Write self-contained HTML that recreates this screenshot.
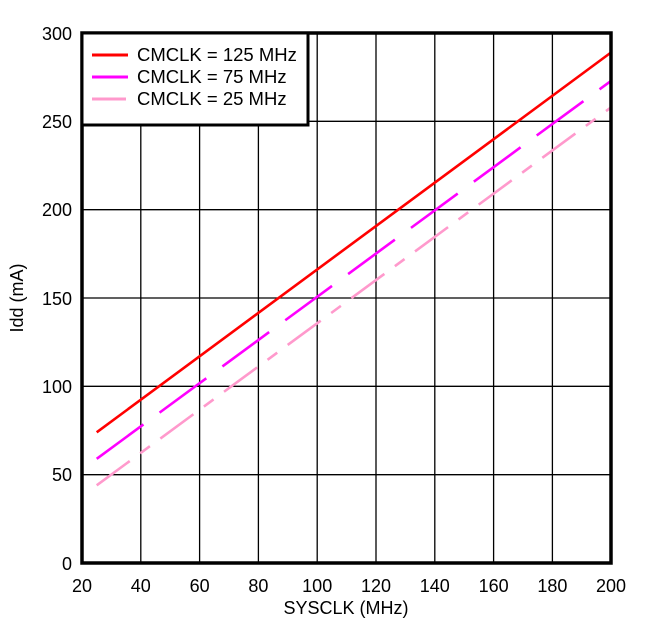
<!DOCTYPE html>
<html><head><style>body{margin:0;background:#fff}</style></head><body>
<svg width="646" height="630" xmlns="http://www.w3.org/2000/svg" font-family="Liberation Sans, Arial, sans-serif">
<rect width="646" height="630" fill="#fff"/>
<g stroke="#000" stroke-width="1.3">
<line x1="140.8" y1="33" x2="140.8" y2="563"/>
<line x1="199.6" y1="33" x2="199.6" y2="563"/>
<line x1="258.4" y1="33" x2="258.4" y2="563"/>
<line x1="317.2" y1="33" x2="317.2" y2="563"/>
<line x1="376" y1="33" x2="376" y2="563"/>
<line x1="434.8" y1="33" x2="434.8" y2="563"/>
<line x1="493.6" y1="33" x2="493.6" y2="563"/>
<line x1="552.4" y1="33" x2="552.4" y2="563"/>
<line x1="82" y1="474.7" x2="611" y2="474.7"/>
<line x1="82" y1="386.3" x2="611" y2="386.3"/>
<line x1="82" y1="298" x2="611" y2="298"/>
<line x1="82" y1="209.7" x2="611" y2="209.7"/>
<line x1="82" y1="121.3" x2="611" y2="121.3"/>
</g>
<g fill="none" stroke-width="2.6">
<line x1="96.7" y1="432.3" x2="611" y2="52.5" stroke="#ff0000"/>
<line x1="96.7" y1="458.8" x2="611" y2="80.9" stroke="#ff00ff" stroke-dasharray="58 20"/>
<line x1="96.7" y1="485.3" x2="611" y2="107.4" stroke="#ff99cc" stroke-dasharray="41 13 12 13"/>
</g>
<rect x="82" y="33" width="529" height="530" fill="none" stroke="#000" stroke-width="3.5"/>
<rect x="82" y="33" width="226" height="92" fill="#fff" stroke="#000" stroke-width="3"/>
<g stroke-width="3">
<line x1="92" y1="55" x2="128" y2="55" stroke="#ff0000"/>
<line x1="92" y1="77" x2="128" y2="77" stroke="#ff00ff"/>
<line x1="92" y1="99" x2="126" y2="99" stroke="#ff99cc"/>
</g>
<g font-size="18.5" fill="#000">
<text x="137" y="61">CMCLK = 125 MHz</text>
<text x="137" y="83">CMCLK = 75 MHz</text>
<text x="137" y="105">CMCLK = 25 MHz</text>
</g>
<g font-size="18" fill="#000" text-anchor="end">
<text x="72" y="40">300</text>
<text x="72" y="128">250</text>
<text x="72" y="216">200</text>
<text x="72" y="305">150</text>
<text x="72" y="393">100</text>
<text x="72" y="481">50</text>
<text x="72" y="570">0</text>
</g>
<g font-size="18" fill="#000" text-anchor="middle">
<text x="82" y="592">20</text>
<text x="140.8" y="592">40</text>
<text x="199.6" y="592">60</text>
<text x="258.4" y="592">80</text>
<text x="317.2" y="592">100</text>
<text x="376" y="592">120</text>
<text x="434.8" y="592">140</text>
<text x="493.6" y="592">160</text>
<text x="552.4" y="592">180</text>
<text x="611" y="592">200</text>
<text x="346" y="614">SYSCLK (MHz)</text>
<text transform="translate(23,298) rotate(-90)">Idd (mA)</text>
</g>
</svg>
</body></html>
